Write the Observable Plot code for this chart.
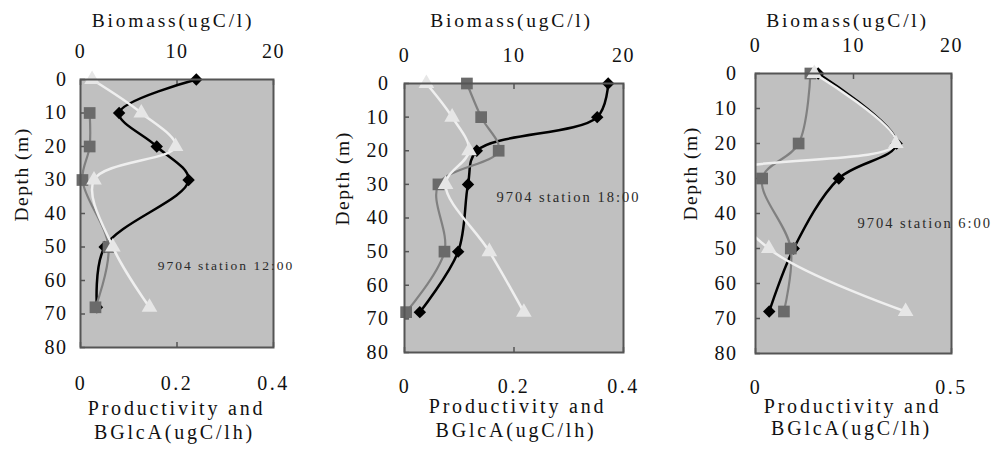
<!DOCTYPE html>
<html>
<head>
<meta charset="utf-8">
<script src="https://cdn.jsdelivr.net/npm/d3@7"></script>
<script src="https://cdn.jsdelivr.net/npm/@observablehq/plot@0.6"></script>
<style>
  html, body { margin: 0; padding: 0; background: #fff; }
  #row { display: flex; width: 995px; height: 450px; overflow: hidden; }
  #row svg { flex: none; overflow: visible; }
</style>
</head>
<body>
<div id="row"></div>
<script>
// ---- data ----
const depths12 = [0, 10, 20, 30, 50, 68];
const depths3 = [0, 20, 30, 50, 68];

// Biomass (ugC/l) - black diamonds
const biomass1 = [12.0, 4.0, 7.9, 11.2, 2.5, 1.7];
const biomass2 = [18.6, 17.6, 6.6, 5.8, 4.9, 1.4];
const biomass3 = [6.4, 14.4, 8.5, 3.9, 1.4];

// Productivity (ugC/lh) - dark grey squares
const productivity1 = [null, 0.019, 0.019, 0.004, 0.058, 0.031];
const productivity2 = [0.114, 0.14, 0.172, 0.062, 0.073, 0.003];
const productivity3 = [0.14, 0.11, 0.017, 0.09, 0.0725];

// BGlcA (ugC/lh) - light triangles
const bglca1 = [0.024, 0.126, 0.197, 0.028, 0.067, 0.143];
const bglca2 = [0.04, 0.087, 0.118, 0.075, 0.155, 0.218];
const bglca3 = [0.15, 0.358, -0.1, 0.034, 0.383];

const biomassTicks = [0, 10, 20];
const biomassMax = 20;
const prodTicks12 = [0, 0.2, 0.4];
const prodTicks3 = [0, 0.5];
const depthTicks = [0, 10, 20, 30, 40, 50, 60, 70, 80];
const stationLabels = ["9704 station 12:00", "9704 station 18:00", "9704 station 6:00"];
const topTitle = "Biomass(ugC/l)";
const bottomTitle = ["Productivity and", "BGlcA(ugC/lh)"];
const yTitle = "Depth (m)";

// ---- layout per panel ----
const panels = [
  {depths: depths12, biomass: biomass1, prod: productivity1, bg: bglca1, prodTicks: prodTicks12,
   width: 330, mL: 80, mR: 57, mT: 79, mB: 103, yPad: 18, bPad: 33,
   titleDx: -4, titleDy: -59, b1: [-0.5, 61], b2: [-2.5, 85], yLab: [-59, 8],
   station: stationLabels[0], sx: 0.16, sy: 55.5, sFont: 13.5},
  {depths: depths12, biomass: biomass2, prod: productivity2, bg: bglca2, prodTicks: prodTicks12,
   width: 330, mL: 74, mR: 37, mT: 83, mB: 98, yPad: 20, bPad: 31,
   titleDx: -2.5, titleDy: -63, b1: [3.5, 54], b2: [2, 78], yLab: [-62, 7.5],
   station: stationLabels[1], sx: 0.168, sy: 34, sFont: 14.5},
  {depths: depths3, biomass: biomass3, prod: productivity3, bg: bglca3, prodTicks: prodTicks3,
   width: 335, mL: 95, mR: 44, mT: 73, mB: 97, yPad: 23, bPad: 31,
   titleDx: -6, titleDy: -53, b1: [-1, 53], b2: [-2, 75], yLab: [-65, 7],
   station: stationLabels[2], sx: 0.26, sy: 42.7, sFont: 14.5}
];

const FONT = "'Liberation Serif', 'DejaVu Serif', serif";

function makePanel(p) {
  const pmax = p.prodTicks[p.prodTicks.length - 1];
  const k = pmax / biomassMax; // biomass -> bottom axis units
  const bio = p.depths.map((d, i) => ({depth: d, x: p.biomass[i] * k}));
  const prod = p.depths.map((d, i) => ({depth: d, x: p.prod[i]})).filter(d => d.x != null);
  const bg = p.depths.map((d, i) => ({depth: d, x: p.bg[i]}));
  const fmt = v => v === 0 ? "0" : v.toFixed(1);
  const svg = Plot.plot({
    width: p.width, height: 450,
    marginLeft: p.mL, marginRight: p.mR, marginTop: p.mT, marginBottom: p.mB,
    style: {fontFamily: FONT, color: "#111", background: "transparent"},
    x: {domain: [0, pmax], label: null},
    y: {domain: [0, 80], reverse: true, label: null},
    marks: [
      Plot.frame({fill: "#c0c0c0", stroke: "none"}),
      Plot.axisY(depthTicks, {anchor: "left", tickSize: -5, tickPadding: p.yPad, fontSize: 20, stroke: "#555", strokeWidth: 1.5, label: null}),
      Plot.axisX(biomassTicks.map(b => b * k), {anchor: "top", tickSize: -5, tickPadding: 27, fontSize: 20, stroke: "#555", strokeWidth: 1.5,
        tickFormat: v => String(Math.round(v / k)), label: null}),
      Plot.axisX(p.prodTicks, {anchor: "bottom", tickSize: -5, tickPadding: p.bPad, fontSize: 20, stroke: "#555", strokeWidth: 1.5,
        tickFormat: fmt, label: null}),
      // black: biomass
      Plot.line(bio, {x: "x", y: "depth", curve: "catmull-rom", stroke: "#000", strokeWidth: 2.5}),
      Plot.dot(bio, {x: "x", y: "depth", symbol: "diamond2", r: 5.6, fill: "#000", stroke: "none"}),
      // grey: productivity
      Plot.line(prod, {x: "x", y: "depth", curve: "catmull-rom", stroke: "#808080", strokeWidth: 2.2}),
      Plot.dot(prod, {x: "x", y: "depth", symbol: "square", r: 6.6, fill: "#6a6a6a", stroke: "none"}),
      // light: BGlcA
      Plot.line(bg, {x: "x", y: "depth", curve: "catmull-rom", stroke: "#efefef", strokeWidth: 2.5, clip: "frame"}),
      Plot.dot(bg.filter(d => d.x >= 0), {x: "x", y: "depth", symbol: "triangle", r: 5.8, fill: "#e6e6e6", stroke: "none"}),
      Plot.frame({stroke: "#555", strokeWidth: 2}),
      // annotations
      Plot.text([p.station], {x: () => p.sx, y: () => p.sy, textAnchor: "start", lineAnchor: "middle", fontSize: p.sFont, fill: "#2a2a2a"}),
      Plot.text([topTitle], {frameAnchor: "top", lineAnchor: "middle", dx: p.titleDx, dy: p.titleDy, fontSize: 19.5, fill: "#111"}),
      Plot.text([bottomTitle[0]], {frameAnchor: "bottom", lineAnchor: "middle", dx: p.b1[0], dy: p.b1[1], fontSize: 20, fill: "#111"}),
      Plot.text([bottomTitle[1]], {frameAnchor: "bottom", lineAnchor: "middle", dx: p.b2[0], dy: p.b2[1], fontSize: 20, fill: "#111"}),
      Plot.text([yTitle], {frameAnchor: "left", lineAnchor: "middle", rotate: -90, dx: p.yLab[0], dy: p.yLab[1], fontSize: 19.5, fill: "#111"})
    ]
  });
  // letter spacing to imitate the wide fixed-pitch glyphs of the original
  const titles = new Set([topTitle, ...bottomTitle]);
  d3.select(svg).selectAll("text").each(function () {
    const t = this.textContent;
    let ls = null;
    if (titles.has(t)) ls = "2.8px";
    else if (t === yTitle) ls = "1.5px";
    else if (stationLabels.includes(t)) ls = "2px";
    else if (t.includes(".")) ls = "2.5px";
    else if (/^\d+$/.test(t)) ls = "1.5px";
    if (ls) this.style.letterSpacing = ls;
  });
  return svg;
}

const row = document.getElementById("row");
panels.forEach(p => row.appendChild(makePanel(p)));
</script>
</body>
</html>
